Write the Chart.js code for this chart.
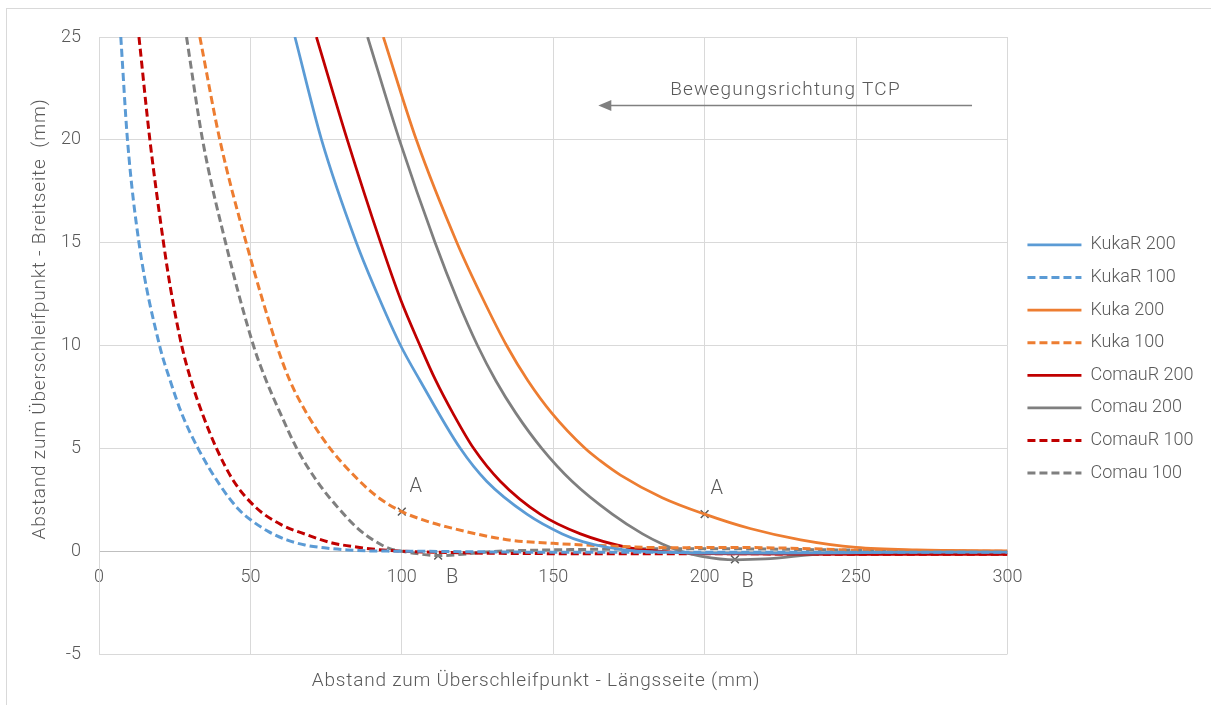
<!DOCTYPE html>
<html><head><meta charset="utf-8">
<script src="https://cdn.jsdelivr.net/npm/chart.js@4.4.1/dist/chart.umd.min.js"></script>
<style>html,body{margin:0;padding:0;background:#fff;overflow:hidden}</style>
</head><body>
<canvas id="c" width="1211" height="705"></canvas>
<script>
// ---- Data ----
const seriesNames = ['KukaR 200','KukaR 100','Kuka 200','Kuka 100','ComauR 200','Comau 200','ComauR 100','Comau 100'];

const kukaR200X = [64.7, 73.5, 85, 92.8, 99.6, 106, 119.3, 128, 141.3, 153, 160, 167.8, 176, 190, 200, 225, 260, 300];
const kukaR200Y = [25, 20, 15, 12.2, 10, 8.3, 5, 3.4, 1.8, 0.84, 0.45, 0.19, 0.03, -0.06, -0.1, -0.1, -0.06, -0.05];

const kukaR100X = [7.2, 9.4, 13.2, 20, 23.5, 27.3, 32.7, 40, 46, 50.3, 56, 62, 68, 75, 82, 90, 100, 150, 200, 250, 300];
const kukaR100Y = [25, 20, 15, 10, 8.3, 6.7, 5, 3.2, 2.05, 1.5, 0.95, 0.55, 0.3, 0.15, 0.06, 0.01, 0, -0.05, -0.05, -0.05, -0.05];

const kuka200X = [93.9, 104.8, 118.2, 127, 134.6, 141.6, 149.6, 160.5, 165.5, 172.2, 186, 200, 215, 231.7, 250, 270, 300];
const kuka200Y = [25, 20, 15, 12.2, 10, 8.3, 6.7, 5, 4.4, 3.7, 2.6, 1.8, 1.1, 0.55, 0.18, 0.06, 0.02];

const kuka100X = [33.3, 39.9, 48.6, 58.7, 63, 68.6, 76.3, 86.8, 92.8, 100, 107, 114.9, 134.7, 150, 165.6, 187.6, 210, 235, 255, 300];
const kuka100Y = [25, 20, 15, 10, 8.3, 6.7, 5, 3.3, 2.55, 1.92, 1.52, 1.18, 0.56, 0.38, 0.27, 0.17, 0.18, 0.12, 0.02, 0];

const comauR200X = [71.8, 82, 93, 99.7, 106, 111.2, 116.9, 123.7, 132.5, 145.7, 159, 174.4, 185, 200, 250, 300];
const comauR200Y = [25, 20, 15, 12.2, 10, 8.3, 6.7, 5, 3.4, 1.8, 0.84, 0.19, 0, -0.12, -0.15, -0.15];

const comau200X = [88.7, 99.2, 111, 118.4, 125, 131, 137.7, 146.2, 156.2, 169.5, 179.5, 186, 192, 199, 210, 220, 240, 270, 300];
const comau200Y = [25, 20, 15, 12.2, 10, 8.3, 6.7, 5, 3.4, 1.8, 0.84, 0.35, 0, -0.25, -0.42, -0.38, -0.12, -0.06, -0.05];

const comauR100X = [13.2, 16.8, 21.3, 23.6, 27.3, 30.4, 34.1, 38.8, 44.5, 52, 60, 68.6, 77, 85, 92, 100, 120, 150, 200, 250, 300];
const comauR100Y = [25, 20, 15, 12.8, 10, 8.3, 6.7, 5, 3.4, 2.1, 1.3, 0.8, 0.4, 0.2, 0.08, 0, -0.08, -0.12, -0.12, -0.15, -0.15];

const comau100X = [28.9, 34.2, 41.8, 51, 55.2, 59.9, 65.3, 72, 79.6, 85.5, 91, 96, 100, 105, 112, 120, 130, 145, 170, 200, 250, 300];
const comau100Y = [25, 20, 15, 10, 8.3, 6.7, 5, 3.4, 2.0, 1.1, 0.5, 0.12, 0, -0.12, -0.22, -0.15, -0.02, 0.05, 0.1, 0.12, 0.05, -0.03];

// Marked points A / B
const markerX = [100, 200, 112, 210];
const markerY = [1.92, 1.8, -0.22, -0.4];
const markerLabels = ['A', 'A', 'B', 'B'];

const xTicks = [0, 50, 100, 150, 200, 250, 300];
const yTicks = [-5, 0, 5, 10, 15, 20, 25];

const xTitle = 'Abstand zum Überschleifpunkt - Längsseite (mm)';
const yTitle = 'Abstand zum Überschleifpunkt - Breitseite  (mm)';
const arrowText = 'Bewegungsrichtung TCP';

// ---- Styles / positions ----
const BLUE = '#5B9BD5', ORANGE = '#ED7D31', RED = '#C00000', GRAY = '#7F7F7F';
const TXT = '#595959';
const FONT = 'Roboto, "Open Sans", "Liberation Sans", sans-serif';
const DASH = [8, 4];
const labelOffsets = [[4.6, 1.2], [4, 1.2], [4.6, -1.07], [4.2, -1.08]];
const arrowPos = {x0: 288.3, x1: 164.9, y: 21.7, tx: 226.7, ty: 22.4};

function pts(xs, ys) { return xs.map((x, i) => ({x: x, y: ys[i]})); }
function ds(label, xs, ys, color, dashed) {
  return {label: label, data: pts(xs, ys), borderColor: color, backgroundColor: color,
    borderWidth: dashed ? 3 : 2.75, borderDash: dashed ? DASH : [], showLine: true,
    pointRadius: 0, pointHoverRadius: 0, cubicInterpolationMode: 'monotone', fill: false};
}

const datasets = [
  ds(seriesNames[0], kukaR200X, kukaR200Y, BLUE, false),
  ds(seriesNames[1], kukaR100X, kukaR100Y, BLUE, true),
  ds(seriesNames[2], kuka200X, kuka200Y, ORANGE, false),
  ds(seriesNames[3], kuka100X, kuka100Y, ORANGE, true),
  ds(seriesNames[4], comauR200X, comauR200Y, RED, false),
  ds(seriesNames[5], comau200X, comau200Y, GRAY, false),
  ds(seriesNames[6], comauR100X, comauR100Y, RED, true),
  ds(seriesNames[7], comau100X, comau100Y, GRAY, true),
  {label: 'marker', data: pts(markerX, markerY), showLine: false, pointStyle: 'crossRot',
   pointRadius: 5.5, pointBorderWidth: 1.5, borderColor: TXT, backgroundColor: TXT, pointHoverRadius: 5.5}
];

Chart.defaults.font.family = FONT;
Chart.defaults.font.weight = '300';
Chart.defaults.color = TXT;

const decor = {
  id: 'decor',
  beforeDraw(chart) {
    const c = chart.ctx;
    c.save();
    c.fillStyle = '#fff';
    c.fillRect(0, 0, chart.width, chart.height);
    c.strokeStyle = '#d9d9d9';
    c.lineWidth = 1;
    c.strokeRect(6.5, 8.5, 1400, 900);
    c.restore();
  },
  afterDatasetsDraw(chart) {
    const c = chart.ctx, xs = chart.scales.x, ys = chart.scales.y;
    c.save();
    c.fillStyle = TXT;
    c.font = '300 20px ' + FONT;
    c.textAlign = 'center';
    c.textBaseline = 'middle';
    markerLabels.forEach((t, i) => {
      c.fillText(t, xs.getPixelForValue(markerX[i] + labelOffsets[i][0]), ys.getPixelForValue(markerY[i] + labelOffsets[i][1]));
    });
    const ax0 = xs.getPixelForValue(arrowPos.x0), ax1 = xs.getPixelForValue(arrowPos.x1), ay = Math.round(ys.getPixelForValue(arrowPos.y)) + 0.5;
    c.strokeStyle = '#808080'; c.fillStyle = '#808080'; c.lineWidth = 1.5;
    c.beginPath(); c.moveTo(ax0, ay); c.lineTo(ax1 + 12, ay); c.stroke();
    c.beginPath(); c.moveTo(ax1, ay); c.lineTo(ax1 + 13, ay - 5.5); c.lineTo(ax1 + 13, ay + 5.5); c.closePath(); c.fill();
    c.fillStyle = TXT;
    c.font = '300 19px ' + FONT;
    c.letterSpacing = '1.2px';
    c.fillText(arrowText, xs.getPixelForValue(arrowPos.tx), ys.getPixelForValue(arrowPos.ty));
    c.restore();
  },
  afterDraw(chart) {
    const c = chart.ctx;
    c.save();
    c.fillStyle = TXT;
    c.font = '300 19px ' + FONT;
    c.letterSpacing = '0.8px';
    c.textAlign = 'center';
    c.textBaseline = 'middle';
    c.fillText(xTitle, 536, 681);
    c.translate(40, 319);
    c.rotate(-Math.PI / 2);
    c.fillText(yTitle, 0, 0);
    c.restore();
  }
};

new Chart(document.getElementById('c'), {
  type: 'scatter',
  data: {datasets: datasets},
  options: {
    responsive: false,
    animation: false,
    events: [],
    layout: {padding: {left: 0, right: 7.5, top: 37, bottom: 24}},
    plugins: {
      legend: {
        position: 'right',
        labels: {
          usePointStyle: true, pointStyle: 'line', pointStyleWidth: 54, padding: 14.6,
          font: {size: 18, family: FONT, weight: '300'}, color: TXT,
          generateLabels: (chart) => {
            const items = Chart.defaults.plugins.legend.labels.generateLabels(chart);
            return items.filter(it => it.datasetIndex < 8).map(it => {
              const d = chart.data.datasets[it.datasetIndex];
              it.lineDash = d.borderDash; it.lineWidth = d.borderWidth; it.strokeStyle = d.borderColor;
              it.lineCap = 'butt';
              return it;
            });
          }
        }
      },
      tooltip: {enabled: false}
    },
    scales: {
      x: {
        type: 'linear', min: 0, max: 300,
        position: {y: 0},
        afterFit: (s) => { s.height = 6; },
        afterBuildTicks: (s) => { s.ticks = xTicks.map(v => ({value: v})); },
        ticks: {padding: 16, font: {size: 18}, color: TXT, maxRotation: 0},
        grid: {color: '#d9d9d9', lineWidth: 1, drawTicks: false},
        border: {color: '#bfbfbf', width: 1}
      },
      x2: {
        type: 'linear', position: 'bottom', min: 0, max: 1, display: true,
        afterFit: (s) => { s.height = 27; },
        ticks: {display: false}, grid: {display: false}, border: {display: false}
      },
      y: {
        type: 'linear', min: -5, max: 25,
        afterFit: (s) => { s.width = 99; },
        afterBuildTicks: (s) => { s.ticks = yTicks.map(v => ({value: v})); },
        ticks: {padding: 18, font: {size: 18}, color: TXT},
        grid: {color: '#d9d9d9', lineWidth: 1, drawTicks: false},
        border: {color: '#d9d9d9', width: 1}
      },
      y2: {
        type: 'linear', position: 'right', min: 0, max: 1, display: true,
        afterFit: (s) => { s.width = 5.4; },
        ticks: {display: false}, grid: {display: false}, border: {display: false}
      }
    }
  },
  plugins: [decor]
});
</script>
</body></html>
